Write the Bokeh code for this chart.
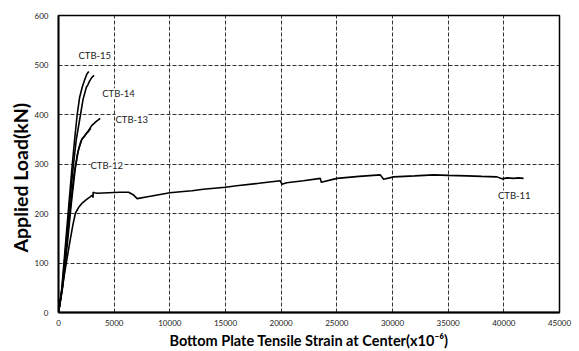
from bokeh.plotting import figure
from bokeh.models import Label, Range1d, SingleIntervalTicker, Title
from bokeh.embed import file_html
from bokeh.resources import INLINE

# ---- data (strain x10^-6, load kN) ----
ctb11_x = [0, 150, 400, 700, 1000, 1300, 1526, 1800, 2127, 2500, 2873, 3050, 3100, 3115, 3200, 3500,
           4500, 5500, 6300, 6700, 7065, 8000, 9000, 10000, 10952, 12000, 13000, 14991, 16000, 18000,
           19928, 20078, 20500, 22000, 23519, 23600, 25017, 27000, 28905, 29200, 30100, 32000, 33690,
           35000, 36690, 38000, 39380, 39830, 40300, 40870, 41300, 41770]
ctb11_y = [0, 20, 60, 100, 140, 178, 201, 212, 221, 228, 234, 237, 232, 243, 242, 241,
           242, 243, 243, 238, 230, 234, 238, 242, 244, 246, 249, 253, 256, 261,
           266, 259, 262, 266, 271, 263, 271, 275, 278, 269, 274, 276, 278,
           277, 276, 275, 274, 270, 272, 271, 272, 271]

ctb12_x = [0, 400, 800, 1150, 1500, 1800, 2100, 2300, 2500, 2700, 2900]
ctb12_y = [0, 55, 140, 220, 290, 330, 350, 355, 362, 366, 372]

ctb13_x = [0, 350, 700, 1050, 1400, 1700, 2000, 2150, 2400, 2700, 3000, 3400, 3750]
ctb13_y = [0, 50, 130, 210, 280, 320, 345, 352, 358, 368, 378, 386, 392]

ctb14_x = [0, 300, 650, 1000, 1300, 1600, 1980, 2200, 2500, 2600, 2800, 3000, 3200]
ctb14_y = [0, 45, 130, 220, 290, 350, 400, 430, 455, 458, 468, 475, 479]

ctb15_x = [0, 300, 600, 900, 1200, 1450, 1680, 1900, 2130, 2350, 2550, 2720]
ctb15_y = [0, 50, 130, 210, 290, 350, 400, 435, 455, 470, 482, 487]

series_x = [ctb11_x, ctb12_x, ctb13_x, ctb14_x, ctb15_x]
series_y = [ctb11_y, ctb12_y, ctb13_y, ctb14_y, ctb15_y]

label_names = ["CTB-11", "CTB-12", "CTB-13", "CTB-14", "CTB-15"]
label_x = [39470, 2873, 5117, 3923, 1795]
label_y = [236, 296, 390, 442, 519]

x_title = "Bottom Plate Tensile Strain at Center(x10\u207b\u2076)"
y_title = "Applied Load(kN)"

FONT = "Lato"

p = figure(width=579, height=351, output_backend="svg", toolbar_location=None,
           x_range=Range1d(0, 45000), y_range=Range1d(0, 600),
           min_border_left=58, min_border_right=20, min_border_top=15, min_border_bottom=38)

for xs, ys in zip(series_x, series_y):
    p.line(xs, ys, line_color="black", line_width=1.6)

for name, lx, ly in zip(label_names, label_x, label_y):
    p.add_layout(Label(x=lx, y=ly, text=name, text_font=FONT, text_font_size="9.5px",
                       text_color="#222222", text_baseline="middle", text_align="left",
                       background_fill_color="white", background_fill_alpha=1.0))

# y-axis title as a side title in the left border
p.add_layout(Title(text=y_title, align="left", offset=60, standoff=0,
                   text_font=FONT, text_font_style="bold", text_font_size="19.5px",
                   text_color="black"), "left")

p.xaxis.ticker = SingleIntervalTicker(interval=5000)
p.yaxis.ticker = SingleIntervalTicker(interval=100)

for ax in (p.xaxis[0], p.yaxis[0]):
    ax.major_tick_out = 0
    ax.major_tick_in = 0
    ax.minor_tick_out = 0
    ax.minor_tick_in = 0
    ax.axis_line_color = "black"
    ax.axis_line_width = 1.8
    ax.major_label_text_font = FONT
    ax.major_label_text_font_size = "8px"
    ax.major_label_text_color = "#222222"
    ax.axis_label_text_font = FONT
    ax.axis_label_text_font_style = "bold"
    ax.axis_label_text_font_size = "14.5px"
    ax.axis_label_text_color = "black"

p.xaxis.axis_label = x_title
p.xaxis.major_label_standoff = 7
p.yaxis.major_label_standoff = 10
p.xaxis.axis_label_standoff = 3

p.grid.grid_line_color = "#333333"
p.grid.grid_line_dash = "4 2"
p.grid.grid_line_width = 1
p.outline_line_color = "black"
p.outline_line_width = 1.5
p.outline_line_alpha = 1.0

open("out.html", "w").write(file_html(p, INLINE))
